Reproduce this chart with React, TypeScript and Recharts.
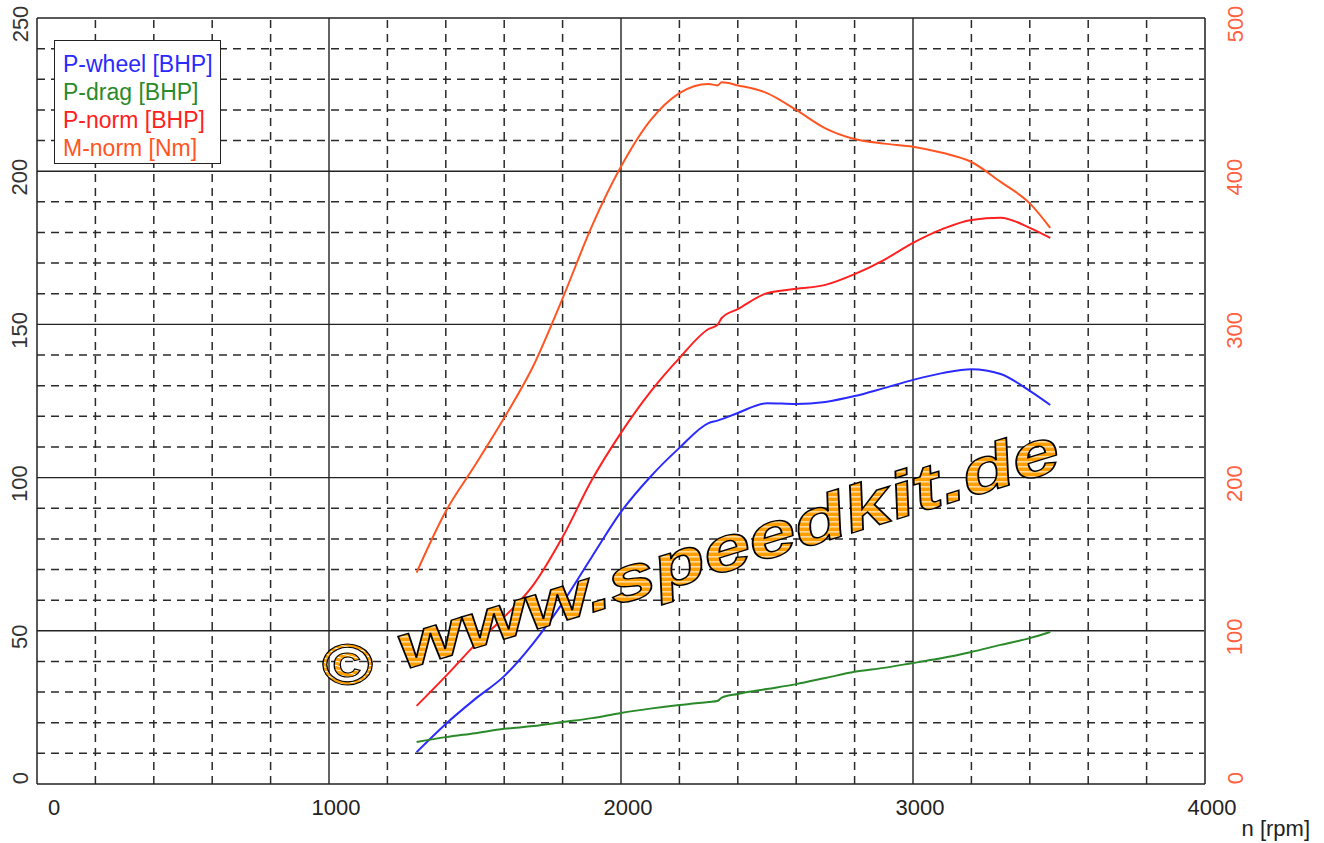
import React from 'react';
import { LineChart, Line, XAxis, YAxis, ReferenceLine, Legend, Label } from 'recharts';

const FONT = '"Liberation Sans", Arial, sans-serif';

// engine speed [rpm]
const rpm = [1300, 1400, 1500, 1600, 1700, 1800, 1900, 2000, 2100, 2200, 2300, 2330, 2345, 2400, 2500, 2600, 2700, 2800, 2900, 3000, 3100, 3200, 3300, 3400, 3470];
// power at the wheel [BHP]
const pWheel = [10.4, 19.6, 27.7, 35.2, 46.0, 59.1, 74.1, 88.8, 100.2, 109.7, 117.8, 118.6, 119.1, 121.1, 124.3, 124.0, 124.7, 126.6, 129.2, 131.9, 134.1, 135.4, 133.8, 128.3, 123.7];
// drag power [BHP]
const pDrag = [13.7, 15.3, 16.6, 18.0, 18.9, 20.2, 21.5, 23.2, 24.6, 25.8, 26.8, 27.1, 28.2, 29.4, 31.0, 32.6, 34.6, 36.6, 37.9, 39.5, 41.1, 43.1, 45.4, 47.6, 49.6];
// normalised power [BHP]
const pNorm = [25.5, 35.2, 45.4, 54.5, 65.0, 80.6, 99.2, 114.6, 127.9, 139.0, 148.5, 149.8, 152.1, 155.0, 160.2, 161.6, 162.9, 166.4, 171.0, 176.6, 181.1, 184.1, 184.8, 181.5, 178.2];
// normalised torque [Nm]
const mNorm = [138, 178, 208, 239, 273, 317, 364, 403, 433, 451, 457, 456, 458, 456, 451, 440, 428, 421, 418, 416, 412, 406, 393, 379, 363];

const seriesNames = ['P-wheel [BHP]', 'P-drag [BHP]', 'P-norm [BHP]', 'M-norm [Nm]'];

const xTicks = [0, 1000, 2000, 3000, 4000];
const leftTicks = [0, 50, 100, 150, 200, 250];
const rightTicks = [0, 100, 200, 300, 400, 500];
const xMinor = [200, 400, 600, 800, 1200, 1400, 1600, 1800, 2200, 2400, 2600, 2800, 3200, 3400, 3600, 3800];
const xMajor = [1000, 2000, 3000];
const yMinor = [10, 20, 30, 40, 60, 70, 80, 90, 110, 120, 130, 140, 160, 170, 180, 190, 210, 220, 230, 240];
const yMajor = [50, 100, 150, 200];

const data = rpm.map((n, i) => ({ n, pWheel: pWheel[i], pDrag: pDrag[i], pNorm: pNorm[i], mNorm: mNorm[i] }));

const XTick = ({ x, y, payload }: any) => (
  <text x={x + (payload.value === 0 ? 17 : 7)} y={y + 31} textAnchor="middle" fill="#222" fontSize={22} fontFamily={FONT}>
    {payload.value}
  </text>
);

const SideTick = ({ x, y, payload, dx, color }: any) => {
  const cx = x + dx;
  const cy = y + (payload.value === 0 ? -6 : 6);
  return (
    <text x={cx} y={cy} transform={`rotate(-90 ${cx} ${cy})`} textAnchor="middle" dominantBaseline="central" fill={color} fontSize={22} fontFamily={FONT}>
      {payload.value}
    </text>
  );
};

const LegendBox = ({ payload }: any) => {
  const items = [...(payload || [])].sort((a: any, b: any) => seriesNames.indexOf(a.value) - seriesNames.indexOf(b.value));
  return (
    <div style={{ width: 167, height: 124, boxSizing: 'border-box', border: '1.5px solid #222', background: '#fff', padding: '9px 0 0 8px', fontFamily: FONT, fontSize: 23, lineHeight: '28px' }}>
      {items.map((e: any) => (
        <div key={e.value} style={{ color: e.color, whiteSpace: 'nowrap' }}>{e.value}</div>
      ))}
    </div>
  );
};

const Watermark = () => (
  <svg width={1324} height={843} style={{ position: 'absolute', left: 0, top: 0, pointerEvents: 'none' }}>
    <defs>
      <pattern id="stripes" width="8" height="5" patternUnits="userSpaceOnUse" patternTransform="rotate(17)">
        <rect width="8" height="5" fill="#ffa000" />
        <rect y="4" width="8" height="1" fill="#fff" />
      </pattern>
    </defs>
    <g transform="translate(347.5 664.5) scale(1 0.82)">
      <text x={0} y={25} textAnchor="middle" fontSize={70} fontWeight="bold" fontFamily={FONT} fill="url(#stripes)" stroke="#000" strokeWidth={1.3}>©</text>
    </g>
    <g transform="rotate(-17 404 670)">
      <text x={404} y={670} fontSize={64} fontWeight="bold" fontStyle="italic" fontFamily={FONT} textLength={690} lengthAdjust="spacingAndGlyphs" fill="url(#stripes)" stroke="#000" strokeWidth={1.4}>www.speedkit.de</text>
    </g>
  </svg>
);

export default function App() {
  return (
    <div style={{ position: 'absolute', left: 0, top: 0, width: 1324, height: 843, background: '#fff' }}>
      <LineChart width={1324} height={843} data={data} margin={{ top: 18, right: 0, bottom: 0, left: 0 }}>
        <XAxis dataKey="n" type="number" domain={[0, 4000]} ticks={xTicks} height={59} axisLine={false} tickLine={false} tickSize={0} tickMargin={0} tick={(p: any) => <XTick {...p} />}>
          <Label value="n [rpm]" position="insideBottomRight" offset={0} dx={105} dy={-7} fill="#222" fontSize={22} fontFamily={FONT} />
        </XAxis>
        <YAxis yAxisId="left" domain={[0, 250]} ticks={leftTicks} width={37} axisLine={false} tickLine={false} tickSize={0} tickMargin={0} tick={(p: any) => <SideTick {...p} dx={-17} color="#333" />} />
        <YAxis yAxisId="right" orientation="right" domain={[0, 500]} ticks={rightTicks} width={119} axisLine={false} tickLine={false} tickSize={0} tickMargin={0} tick={(p: any) => <SideTick {...p} dx={30} color="#ff6040" />} />

        {xMinor.map((v) => (
          <ReferenceLine key={`xm${v}`} yAxisId="left" x={v} stroke="#2a2a2a" strokeWidth={1.5} strokeDasharray="8 6" />
        ))}
        {yMinor.map((v) => (
          <ReferenceLine key={`ym${v}`} yAxisId="left" y={v} stroke="#2a2a2a" strokeWidth={1.5} strokeDasharray="8 6" />
        ))}
        {xMajor.map((v) => (
          <ReferenceLine key={`xM${v}`} yAxisId="left" x={v} stroke="#222" strokeWidth={1.4} />
        ))}
        {yMajor.map((v) => (
          <ReferenceLine key={`yM${v}`} yAxisId="left" y={v} stroke="#222" strokeWidth={1.4} />
        ))}
        <ReferenceLine yAxisId="left" x={0} stroke="#222" strokeWidth={1.5} />
        <ReferenceLine yAxisId="left" x={4000} stroke="#555" strokeWidth={2} />
        <ReferenceLine yAxisId="left" y={0} stroke="#222" strokeWidth={1.5} />
        <ReferenceLine yAxisId="left" y={250} stroke="#222" strokeWidth={1.5} />

        <Line yAxisId="left" dataKey="pWheel" name={seriesNames[0]} type="monotone" stroke="#2a2aff" strokeWidth={2} dot={false} isAnimationActive={false} />
        <Line yAxisId="left" dataKey="pDrag" name={seriesNames[1]} type="monotone" stroke="#2a8a2a" strokeWidth={2} dot={false} isAnimationActive={false} />
        <Line yAxisId="left" dataKey="pNorm" name={seriesNames[2]} type="monotone" stroke="#ff2020" strokeWidth={2} dot={false} isAnimationActive={false} />
        <Line yAxisId="right" dataKey="mNorm" name={seriesNames[3]} type="monotone" stroke="#ff5522" strokeWidth={2} dot={false} isAnimationActive={false} />

        <Legend layout="horizontal" verticalAlign="middle" align="center" wrapperStyle={{ left: 54, top: 40, width: 'auto', height: 'auto' }} content={(p: any) => <LegendBox {...p} />} />
      </LineChart>
      <Watermark />
    </div>
  );
}
